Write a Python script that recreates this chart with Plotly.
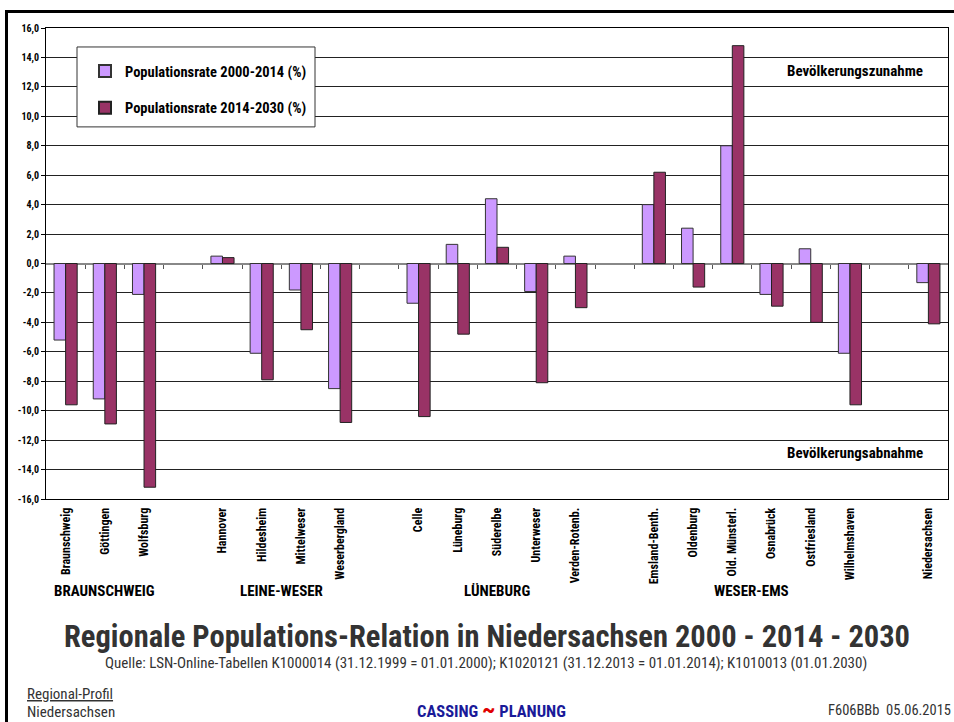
import plotly.graph_objects as go

categories = ["Braunschweig", "Göttingen", "Wolfsburg", "",
              "Hannover", "Hildesheim", "Mittelweser", "Weserbergland", "",
              "Celle", "Lüneburg", "Süderelbe", "Unterweser", "Verden-Rotenb.", "",
              "Emsland-Benth.", "Oldenburg", "Old. Münsterl.", "Osnabrück", "Ostfriesland", "Wilhelmshaven", "",
              "Niedersachsen"]
rate_2000_2014 = [-5.2, -9.2, -2.1, None,
                  0.5, -6.1, -1.8, -8.5, None,
                  -2.7, 1.3, 4.4, -1.9, 0.5, None,
                  4.0, 2.4, 8.0, -2.1, 1.0, -6.1, None,
                  -1.3]
rate_2014_2030 = [-9.6, -10.9, -15.2, None,
                  0.4, -7.9, -4.5, -10.8, None,
                  -10.4, -4.8, 1.1, -8.1, -3.0, None,
                  6.2, -1.6, 14.8, -2.9, -4.0, -9.6, None,
                  -4.1]
series_names = ["Populationsrate 2000-2014 (%)", "Populationsrate 2014-2030 (%)"]
group_names = ["BRAUNSCHWEIG", "LEINE-WESER", "LÜNEBURG", "WESER-EMS"]
group_members = [[0, 1, 2], [4, 5, 6, 7], [9, 10, 11, 12, 13], [15, 16, 17, 18, 19, 20]]
y_ticks = [-16, -14, -12, -10, -8, -6, -4, -2, 0, 2, 4, 6, 8, 10, 12, 14, 16]

W, H = 954, 722
PL, PR, PT, PB = 46, 948, 28, 499.5
NARROW = "Roboto Condensed, DejaVu Sans Condensed, Liberation Sans Narrow, Arial Narrow, Liberation Sans, sans-serif"

def px(x):
    return (x - PL) / (PR - PL)

def py(y):
    return (PB - y) / (PB - PT)

xs = list(range(len(categories)))
label_idx = [i for i, c in enumerate(categories) if c]

fig = go.Figure()
fig.add_trace(go.Bar(x=xs, y=rate_2000_2014, name="<b>%s</b>" % series_names[0], legendgroup="a",
                     marker=dict(color="#CC99FF", line=dict(color="#333333", width=1))))
fig.add_trace(go.Bar(x=xs, y=rate_2014_2030, name="<b>%s</b>" % series_names[1], legendgroup="b",
                     marker=dict(color="#993366", line=dict(color="#222222", width=1))))
# helper trace for the tick marks on the zero line
fig.add_trace(go.Scatter(x=[xs[0]], y=[0], xaxis="x2", mode="none", showlegend=False, hoverinfo="skip"))

fig.update_layout(
    width=W, height=H,
    margin=dict(l=PL, r=W - PR, t=PT, b=H - PB),
    paper_bgcolor="white", plot_bgcolor="white",
    barmode="group", bargap=0.41, bargroupgap=0,
    font=dict(family=NARROW, color="black"),
    showlegend=True,
    legend=dict(x=px(85), y=py(55), xanchor="left", yanchor="top",
                bgcolor="rgba(0,0,0,0)", borderwidth=0, tracegroupgap=15,
                font=dict(size=14.5, family=NARROW, color="black"),
                itemsizing="constant"),
    xaxis=dict(range=[-0.5, len(categories) - 0.5], tickmode="array",
               tickvals=label_idx, ticktext=["<b>%s</b>" % categories[i] for i in label_idx],
               tickangle=-90, tickfont=dict(size=12, family=NARROW, color="black"),
               ticklabelstandoff=3,
               showgrid=False, zeroline=False, ticks="", ticklen=0,
               showline=True, linecolor="black", linewidth=1, mirror=True),
    xaxis2=dict(overlaying="x", matches="x", anchor="free", position=0.5,
                tickmode="array", tickvals=[i + 0.5 for i in xs[:-1]],
                ticks="outside", ticklen=4, tickcolor="#555555", tickwidth=1,
                showticklabels=False, showgrid=False, zeroline=False, showline=False),
    yaxis=dict(range=[-16, 16], tickmode="array", tickvals=y_ticks,
               ticktext=["<b>%s</b>" % ("%.1f" % v).replace(".", ",") for v in y_ticks],
               tickfont=dict(size=10, family=NARROW, color="black"),
               ticks="outside", ticklen=4, tickcolor="black",
               showgrid=True, gridcolor="#222222", gridwidth=1,
               zeroline=True, zerolinecolor="#888888", zerolinewidth=2,
               showline=True, linecolor="black", linewidth=1, mirror=True),
)

shapes = [
    # legend frame
    dict(type="rect", xref="paper", yref="paper", x0=px(77), x1=px(315), y0=py(127), y1=py(47),
         fillcolor="white", line=dict(color="#333333", width=1), layer="above"),
    # page border
    dict(type="line", xref="paper", yref="paper", x0=px(6.5), x1=px(6.5), y0=py(11.5), y1=py(730),
         line=dict(color="black", width=3)),
    dict(type="line", xref="paper", yref="paper", x0=px(5), x1=px(960), y0=py(11.5), y1=py(11.5),
         line=dict(color="black", width=3)),
]
fig.update_layout(shapes=shapes)

def note(xp, yp, text, size, color="black", xanchor="center", xref="paper"):
    return dict(x=xp, y=py(yp), xref=xref, yref="paper", text=text, showarrow=False,
                xanchor=xanchor, yanchor="middle",
                font=dict(size=size, family=NARROW, color=color))

ann = []
for name, mem in zip(group_names, group_members):
    ann.append(note(sum(mem) / len(mem), 592, "<b>%s</b>" % name, 15, xref="x"))
ann += [
    note(px(855), 71, "<b>Bevölkerungszunahme</b>", 15),
    note(px(855), 453, "<b>Bevölkerungsabnahme</b>", 15),
    note(px(487), 637, "<b>Regionale Populations-Relation in Niedersachsen 2000 - 2014 - 2030</b>", 30.5, "#333333"),
    note(px(486), 664, "Quelle: LSN-Online-Tabellen K1000014 (31.12.1999 = 01.01.2000); K1020121 (31.12.2013 = 01.01.2014); K1010013 (01.01.2030)", 15, "#333333"),
    note(px(25), 695, "<u>Regional-Profil</u>", 15, "#333333", "left"),
    note(px(25), 713, "Niedersachsen", 15, "#333333", "left"),
    note(px(491), 710, "<b>CASSING</b> <b><span style='color:#e00000;font-size:24px'>~</span></b> <b>PLANUNG</b>", 16.5, "#1a1a99"),
    note(px(826), 711, "F606BBb  05.06.2015", 14.5, "#333333", "left"),
]
fig.update_layout(annotations=ann)

fig.write_html("out.html", config={"displayModeBar": False},
               post_script="document.body.style.margin='0px';")
